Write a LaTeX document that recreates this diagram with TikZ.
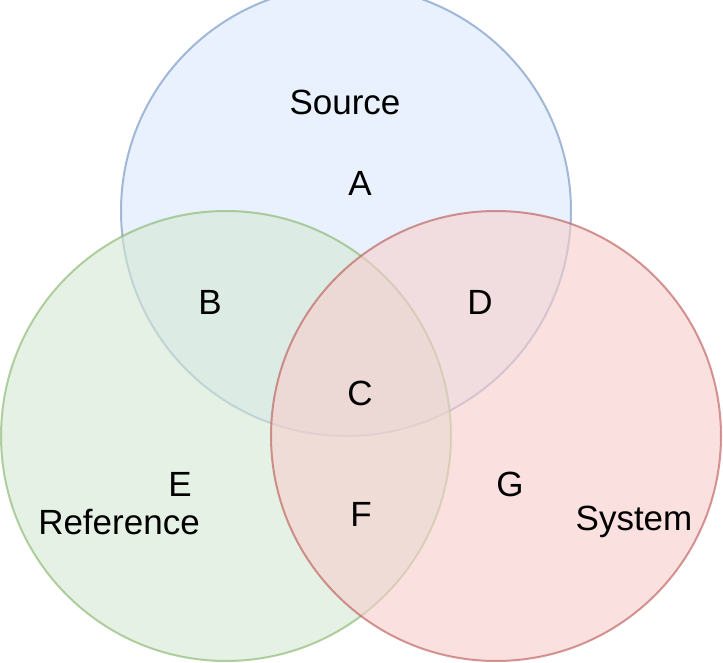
\documentclass[tikz,border=0pt]{standalone}
\usepackage{fontspec}
\setmainfont{Liberation Sans}
\begin{document}
\begin{tikzpicture}[x=1pt,y=-1pt,
  circ/.style={line width=2pt,opacity=0.6},
  lbl/.style={font=\fontsize{35}{39}\selectfont,inner sep=0pt}]
\useasboundingbox (0,0) rectangle (723,663);
\fill[white] (0,0) rectangle (723,663);
\draw[circ,fill={rgb,255:red,218;green,232;blue,252},draw={rgb,255:red,108;green,142;blue,191}] (346,211) circle (225);
\draw[circ,fill={rgb,255:red,213;green,232;blue,212},draw={rgb,255:red,130;green,179;blue,102}] (226,436) circle (225);
\draw[circ,fill={rgb,255:red,248;green,206;blue,204},draw={rgb,255:red,184;green,84;blue,80}] (496,436) circle (225);
\node[lbl] (src) at (345,102) {Source};
\node[lbl] (a) at (360,183) {A};
\node[lbl] (b) at (210,302) {B};
\node[lbl] (d) at (480,302) {D};
\node[lbl] (c) at (360,393) {C};
\node[lbl] (e) at (180,484) {E};
\node[lbl] (g) at (510,484) {G};
\node[lbl] (f) at (361,514) {F};
\node[lbl] (ref) at (119,522) {Reference};
\node[lbl] (sys) at (634,522) {System};
\end{tikzpicture}
\end{document}
